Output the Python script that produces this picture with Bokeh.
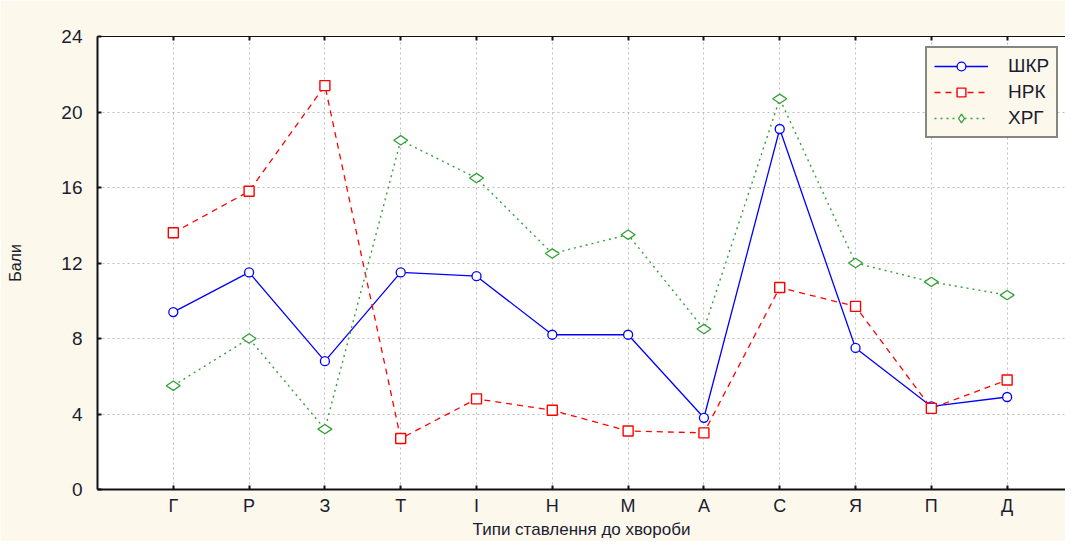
from bokeh.plotting import figure
from bokeh.models import Range1d, FixedTicker, LinearAxis, Legend, LegendItem
from bokeh.embed import file_html
from bokeh.resources import INLINE

categories = ["Г", "Р", "З", "Т", "І", "Н", "М", "А", "С", "Я", "П", "Д"]
shkr = [9.4, 11.5, 6.8, 11.5, 11.3, 8.2, 8.2, 3.8, 19.1, 7.5, 4.4, 4.9]
nrk = [13.6, 15.8, 21.4, 2.7, 4.8, 4.2, 3.1, 3.0, 10.7, 9.7, 4.3, 5.8]
hrg = [5.5, 8.0, 3.2, 18.5, 16.5, 12.5, 13.5, 8.5, 20.7, 12.0, 11.0, 10.3]
y_ticks = [0, 4, 8, 12, 16, 20, 24]

xs = list(range(1, len(categories) + 1))
FONT = "Liberation Sans"
TXT = "#1c1c30"
BG = "#fdf8ec"

p = figure(width=1065, height=541, output_backend="svg", toolbar_location=None,
           x_range=Range1d(0, 12.77), y_range=Range1d(0, 24),
           min_border_left=97, min_border_top=36, min_border_bottom=51, min_border_right=0,
           background_fill_color="white", border_fill_color=BG)
p.outline_line_color = None

p.xaxis.ticker = FixedTicker(ticks=xs)
p.xaxis.major_label_overrides = {i: c for i, c in zip(xs, categories)}
p.yaxis.ticker = FixedTicker(ticks=y_ticks)

for ax in (p.xaxis[0], p.yaxis[0]):
    ax.axis_line_width = 2
    ax.axis_line_color = "#111111"
    ax.major_tick_in = 4
    ax.major_tick_out = 0
    ax.major_tick_line_width = 2
    ax.major_tick_line_color = "#111111"
    ax.minor_tick_line_color = None
    ax.major_label_text_font = FONT
    ax.major_label_text_font_size = "18px"
    ax.major_label_text_color = TXT
    ax.axis_label_text_font = FONT
    ax.axis_label_text_font_style = "normal"
    ax.axis_label_text_color = TXT

p.yaxis.major_label_text_font_size = "19px"
p.yaxis.major_label_standoff = 15
p.xaxis.major_label_standoff = 6
p.xaxis.axis_label = "Типи ставлення до хвороби"
p.xaxis.axis_label_text_font_size = "17px"
p.xaxis.axis_label_standoff = 1
p.yaxis.axis_label = "Бали"
p.yaxis.axis_label_text_font_size = "16px"
p.yaxis.axis_label_standoff = 34

top = LinearAxis(ticker=FixedTicker(ticks=xs), major_label_text_alpha=0,
                 major_label_text_font_size="1px", major_tick_in=4, major_tick_out=0,
                 major_tick_line_width=2, major_tick_line_color="#111111",
                 minor_tick_line_color=None, axis_line_width=1, axis_line_color="#111111")
p.add_layout(top, "above")

for g in (p.xgrid[0], p.ygrid[0]):
    g.grid_line_color = "#bdbdbd"
    g.grid_line_dash = "2 3"
    g.grid_line_width = 1
p.ygrid.ticker = FixedTicker(ticks=y_ticks)

l1 = p.line(xs, shkr, line_color="#0000ff", line_width=1.3)
m1 = p.scatter(xs, shkr, marker="circle", size=9, line_color="#0000ff", fill_color="white", line_width=1.3)
l2 = p.line(xs, nrk, line_color="#ff0000", line_width=1.3, line_dash="6 5")
m2 = p.scatter(xs, nrk, marker="square", size=10, line_color="#ff0000", fill_color="white", line_width=1.4)
l3 = p.line(xs, hrg, line_color="#35a035", line_width=1.4, line_dash="2 4")
m3 = p.scatter(xs, hrg, marker="diamond", size=14, angle=1.5708, line_color="#35a035", fill_color="white", line_width=1.3)

legend = Legend(items=[LegendItem(label="ШКР", renderers=[l1, m1]),
                       LegendItem(label="НРК", renderers=[l2, m2]),
                       LegendItem(label="ХРГ", renderers=[l3, m3])],
                location=(828, 351))
legend.background_fill_color = BG
legend.background_fill_alpha = 1
legend.border_line_color = "#111111"
legend.border_line_width = 2
legend.label_text_font = FONT
legend.label_text_font_size = "19px"
legend.label_text_color = TXT
legend.glyph_width = 54
legend.glyph_height = 22
legend.label_standoff = 20
legend.spacing = 4
legend.padding = 7
legend.margin = 0
p.add_layout(legend, "center")

open("out.html", "w").write(file_html(p, INLINE))
